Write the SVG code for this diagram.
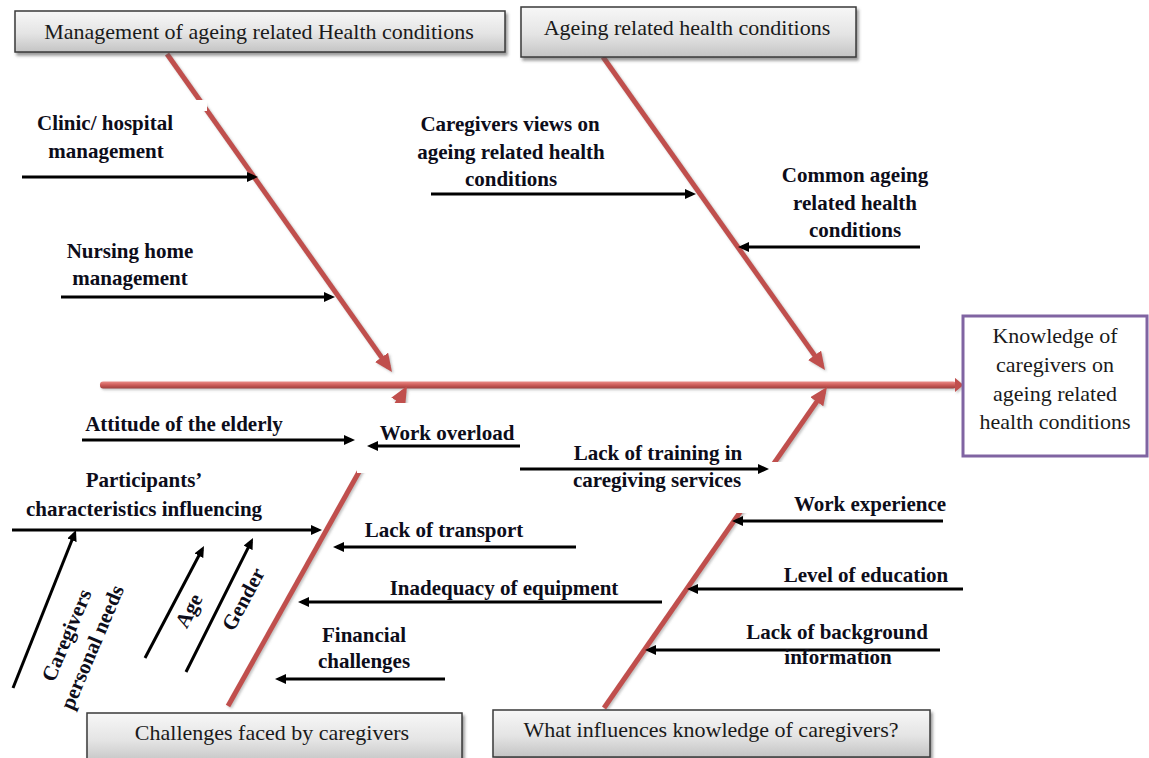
<svg xmlns="http://www.w3.org/2000/svg" width="1149" height="758" viewBox="0 0 1149 758">
  <style>
    .bg { fill: #ffffff; }
    .box { fill: url(#boxFill); stroke: #3a3a3a; stroke-width: 1.5; filter: url(#boxShadow); }
    .boxText { font-family: "Liberation Serif", "Times New Roman", serif; font-size: 22px; fill: #1a1a1a; text-anchor: middle; }
    .effect { fill: #ffffff; stroke: #8064a2; stroke-width: 3; }
    .bone { stroke: #c0504d; stroke-width: 5; fill: none; marker-end: url(#redHead); }
    .spine { fill: url(#spineFill); }
    .mask { fill: #ffffff; }
    .cause { stroke: #000000; stroke-width: 3; fill: none; marker-end: url(#blackHead); }
    .lbl { font-family: "Liberation Serif", "Times New Roman", serif; font-weight: bold; font-size: 21px; fill: #0d0d1a; text-anchor: middle; }
  </style>
  <defs>
    <linearGradient id="boxFill" x1="0" y1="0" x2="0" y2="1">
      <stop offset="0" stop-color="#f7f7f7"/>
      <stop offset="0.55" stop-color="#e4e4e4"/>
      <stop offset="1" stop-color="#c4c4c4"/>
    </linearGradient>
    <linearGradient id="spineFill" x1="0" y1="0" x2="0" y2="1">
      <stop offset="0" stop-color="#ea8c88"/>
      <stop offset="0.45" stop-color="#d0605c"/>
      <stop offset="1" stop-color="#9e3f3c"/>
    </linearGradient>
    <filter id="boxShadow" x="-5%" y="-20%" width="110%" height="150%">
      <feDropShadow dx="2" dy="3" stdDeviation="1.5" flood-color="#555555" flood-opacity="0.6"/>
    </filter>
    <filter id="boneShadow" x="-10%" y="-10%" width="120%" height="120%">
      <feDropShadow dx="1.5" dy="1.5" stdDeviation="1" flood-color="#777777" flood-opacity="0.45"/>
    </filter>
    <marker id="blackHead" markerUnits="userSpaceOnUse" markerWidth="11" markerHeight="10" refX="7" refY="5" orient="auto">
      <path d="M0,0 L11,5 L0,10 z" fill="#000000"/>
    </marker>
    <marker id="redHead" markerUnits="userSpaceOnUse" markerWidth="18" markerHeight="16" refX="12" refY="8" orient="auto">
      <path d="M0,0 L18,8 L0,16 z" fill="#c0504d"/>
    </marker>
    <marker id="spineHead" markerUnits="userSpaceOnUse" markerWidth="9" markerHeight="15" refX="1" refY="7.5" orient="auto">
      <path d="M0,0 L9,7.5 L0,15 z" fill="#c0504d"/>
    </marker>
  </defs>

  <rect class="bg" x="0" y="0" width="1149" height="758"/>

  <!-- fish skeleton: spine and the four category bones -->
  <g id="connectors">
    <g filter="url(#boneShadow)">
      <rect class="spine" x="100" y="381.5" width="856" height="7" rx="3"/>
      <line x1="955" y1="385" x2="955.5" y2="385" stroke="#c0504d" stroke-width="2" marker-end="url(#spineHead)"/>
      <line class="bone" x1="167" y1="54" x2="388.5" y2="367.1"/>
      <line class="bone" x1="603" y1="57" x2="821.5" y2="365.1"/>
      <line class="bone" x1="228" y1="706" x2="404.1" y2="391.2"/>
      <line class="bone" x1="604" y1="708" x2="823.6" y2="391.9"/>
    </g>

    <!-- label backgrounds that sit over the bones -->
    <rect class="mask" x="20" y="100" width="187" height="11"/>
    <rect class="mask" x="357" y="403" width="62" height="70"/>
    <rect class="mask" x="735" y="462" width="70" height="51"/>

    <!-- cause arrows -->
    <line class="cause" x1="22" y1="177" x2="254" y2="177"/>
    <line class="cause" x1="61" y1="297" x2="331" y2="297"/>
    <line class="cause" x1="431" y1="194" x2="692" y2="194"/>
    <line class="cause" x1="920" y1="247" x2="742" y2="247"/>
    <line class="cause" x1="82" y1="440" x2="351" y2="440"/>
    <line class="cause" x1="520" y1="446" x2="371" y2="446"/>
    <line class="cause" x1="520" y1="469" x2="765" y2="469"/>
    <line class="cause" x1="12" y1="530" x2="318" y2="530"/>
    <line class="cause" x1="576" y1="547" x2="337" y2="547"/>
    <line class="cause" x1="662" y1="602" x2="302" y2="602"/>
    <line class="cause" x1="445" y1="679" x2="279" y2="679"/>
    <line class="cause" x1="943" y1="521" x2="736" y2="521"/>
    <line class="cause" x1="963" y1="589" x2="691" y2="589"/>
    <line class="cause" x1="940" y1="650" x2="649" y2="650"/>
    <line class="cause" x1="13" y1="688" x2="74.5" y2="533.7"/>
    <line class="cause" x1="145" y1="658" x2="202.1" y2="549.5"/>
    <line class="cause" x1="186" y1="672" x2="251.2" y2="541.6"/>
  </g>

  <!-- category boxes -->
  <g id="cat-management">
    <rect class="box" x="15" y="11" width="490" height="41"/>
    <text class="boxText" x="259" y="39">Management of ageing related Health conditions</text>
  </g>
  <g id="cat-conditions">
    <rect class="box" x="521" y="7" width="335" height="50"/>
    <text class="boxText" x="687" y="35">Ageing related health conditions</text>
  </g>
  <g id="cat-challenges">
    <rect class="box" x="87" y="713" width="375" height="50"/>
    <text class="boxText" x="272" y="740">Challenges faced by caregivers</text>
  </g>
  <g id="cat-influences">
    <rect class="box" x="493" y="710" width="437" height="47"/>
    <text class="boxText" x="711" y="737">What influences knowledge of caregivers?</text>
  </g>

  <!-- effect box -->
  <g id="effect">
    <rect class="effect" x="963" y="316" width="184" height="140"/>
    <text class="boxText" x="1055" y="343">Knowledge of</text>
    <text class="boxText" x="1055" y="372">caregivers on</text>
    <text class="boxText" x="1055" y="401">ageing related</text>
    <text class="boxText" x="1055" y="429">health conditions</text>
  </g>

  <!-- cause labels -->
  <g id="cause-clinic">
    <text class="lbl" x="105" y="130">Clinic/ hospital</text>
    <text class="lbl" x="106" y="158">management</text>
  </g>
  <g id="cause-nursing">
    <text class="lbl" x="130" y="258">Nursing home</text>
    <text class="lbl" x="130" y="285">management</text>
  </g>
  <g id="cause-views">
    <text class="lbl" x="510" y="131">Caregivers views on</text>
    <text class="lbl" x="511" y="159">ageing related health</text>
    <text class="lbl" x="511" y="186">conditions</text>
  </g>
  <g id="cause-common">
    <text class="lbl" x="855" y="182">Common ageing</text>
    <text class="lbl" x="855" y="210">related health</text>
    <text class="lbl" x="855" y="237">conditions</text>
  </g>
  <g id="cause-attitude">
    <text class="lbl" x="184" y="431">Attitude of the elderly</text>
  </g>
  <g id="cause-overload">
    <text class="lbl" x="447" y="440">Work overload</text>
  </g>
  <g id="cause-training">
    <text class="lbl" x="658" y="460">Lack of training in</text>
    <text class="lbl" x="657" y="487">caregiving services</text>
  </g>
  <g id="cause-participants">
    <text class="lbl" x="144" y="487">Participants’</text>
    <text class="lbl" x="144" y="516">characteristics influencing</text>
  </g>
  <g id="cause-transport">
    <text class="lbl" x="444" y="537">Lack of transport</text>
  </g>
  <g id="cause-equipment">
    <text class="lbl" x="504" y="595">Inadequacy of equipment</text>
  </g>
  <g id="cause-financial">
    <text class="lbl" x="364" y="642">Financial</text>
    <text class="lbl" x="364" y="668">challenges</text>
  </g>
  <g id="cause-experience">
    <text class="lbl" x="870" y="511">Work experience</text>
  </g>
  <g id="cause-education">
    <text class="lbl" x="866" y="582">Level of education</text>
  </g>
  <g id="cause-background">
    <text class="lbl" x="837" y="639">Lack of background</text>
    <text class="lbl" x="838" y="664">information</text>
  </g>
  <g id="cause-personal-needs">
    <text class="lbl" transform="translate(73,638) rotate(-67)">Caregivers</text>
    <text class="lbl" transform="translate(98.5,650) rotate(-67)">personal needs</text>
  </g>
  <g id="cause-age">
    <text class="lbl" transform="translate(195,614) rotate(-62)">Age</text>
  </g>
  <g id="cause-gender">
    <text class="lbl" transform="translate(249.5,602.5) rotate(-62)">Gender</text>
  </g>
</svg>
